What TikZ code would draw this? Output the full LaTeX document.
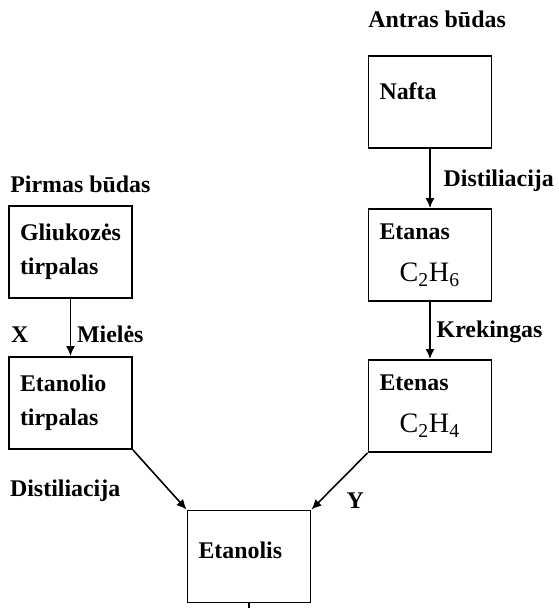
\documentclass[tikz,border=0pt]{standalone}
\usepackage{fontspec}
\setmainfont{Liberation Serif}
\usetikzlibrary{arrows.meta}
\newcommand{\molec}[1]{{\fontsize{16}{19}\selectfont\mdseries #1}}

\begin{document}
\begin{tikzpicture}[
        box/.style={rectangle, draw, line width=1.1pt, minimum width=2.46cm, minimum height=1.84cm, inner xsep=0.22cm, text width=2.02cm, align=left, font=\fontsize{13.6}{19.5}\selectfont\bfseries},
        tag/.style={font=\fontsize{13.6}{19.5}\selectfont\bfseries},
        heading/.style={tag, inner sep=0pt, anchor=base west},
        arrow/.style={-{Latex[length=2mm, width=1.8mm]}, line width=0.9pt}
    ]
        \useasboundingbox (0,0) rectangle (11.16,-12.16);

        \node[heading] (pirmas) at (0.2,-3.86) {Pirmas būdas};
        \node[heading] (antras) at (7.36,-0.56) {Antras būdas};

        \node[box] (gliuk) at (1.41,-5.04) {Gliukozės\\tirpalas};
        \node[box] (etanolio) at (1.41,-8.06) {Etanolio\\tirpalas};
        \node[box, text depth=0.44cm] (nafta) at (8.6,-2.04) {Nafta};
        \node[box] (etanas) at (8.6,-5.1) {Etanas\\[0.16cm]\hspace*{0.4cm}\molec{C\textsubscript{2}H\textsubscript{6}}};
        \node[box] (etenas) at (8.6,-8.12) {Etenas\\[0.16cm]\hspace*{0.4cm}\molec{C\textsubscript{2}H\textsubscript{4}}};
        \node[box, text depth=0.26cm] (etanolis) at (4.98,-11.13) {Etanolis};
        \coordinate (out) at (4.98,-12.16);

        \draw[arrow] (gliuk) -- node[tag, right, pos=0.62]{Mielės} node[tag, left=0.71cm, pos=0.62]{X} (etanolio);
        \draw[arrow] (nafta) -- node[tag, right=0.14cm, pos=0.53]{Distiliacija} (etanas);
        \draw[arrow] (etanas) -- node[tag, right, pos=0.53]{Krekingas} (etenas);
        \draw[arrow] (etanolio.south east) -- node[tag, left=0.86cm, pos=0.69]{Distiliacija} (etanolis.north west);
        \draw[arrow] (etenas.south west) -- node[tag, right=0.4cm, pos=0.85]{Y} (etanolis.north east);
        \draw[line width=0.9pt] (etanolis) -- (out);
    \end{tikzpicture}
\end{document}
